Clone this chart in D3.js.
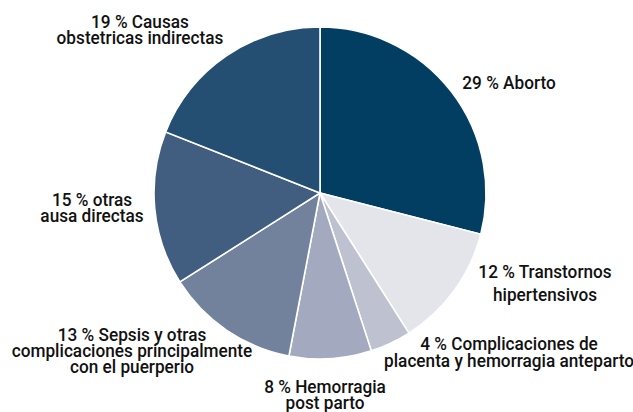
<!DOCTYPE html>
<html>
<head>
<meta charset="utf-8">
<script src="https://cdn.jsdelivr.net/npm/d3@7"></script>
<style>
  html, body { margin: 0; padding: 0; background: #fff; }
  svg text { font-family: Roboto, "Liberation Sans", sans-serif; font-weight: 500; fill: #111; }
</style>
</head>
<body>
<svg id="chart" width="633" height="412"></svg>
<script>
// data, clockwise from 12 o'clock
const causes = [
    "Aborto",
    "Transtornos hipertensivos",
    "Complicaciones de placenta y hemorragia anteparto",
    "Hemorragia post parto",
    "Sepsis y otras complicaciones principalmente con el puerperio",
    "otras ausa directas",
    "Causas obstetricas indirectas",
];
const shares = [29, 12, 4, 8, 13, 15, 19];
const labelLines = [
    ["29 % Aborto"],
    ["12 % Transtornos", "hipertensivos"],
    ["4 % Complicaciones de", "placenta y hemorragia anteparto"],
    ["8 % Hemorragia", "post parto"],
    ["13 % Sepsis y otras", "complicaciones principalmente", "con el puerperio"],
    ["15 % otras", "ausa directas"],
    ["19 % Causas", "obstetricas indirectas"],
];
const sliceColors = ["#023e62", "#e4e5eb", "#bec2d0", "#a3a9bf", "#72829c", "#415e80", "#254f72"];

const svg = d3.select("#chart");
const cx = 320, cy = 193, radius = 166;

const pie = d3.pie().sort(null).value((d) => d.value);
const arc = d3.arc().innerRadius(0).outerRadius(radius);

const data = causes.map((c, i) => ({ name: c, value: shares[i], lines: labelLines[i] }));
const arcs = pie(data);

const g = svg.append("g").attr("transform", `translate(${cx},${cy})`);

g.selectAll("path.slice")
    .data(arcs)
    .enter()
    .append("path")
    .attr("class", "slice")
    .attr("d", arc)
    .attr("fill", (d, i) => sliceColors[i])
    .attr("stroke", "#fff")
    .attr("stroke-width", 1.6);

// label anchors relative to pie center (x) and page (y baseline), tuned by eye
const labelPos = [
    { x: 189, y: 89 },
    { x: 225, y: 278 },
    { x: 189, y: 350 },
    { x: 5, y: 393 },
    { x: -188, y: 341 },
    { x: -228, y: 206 },
    { x: -180, y: 28 },
];
const lineGap = [0, 23, 17, 16, 16, 16, 16];
const squeeze = 0.93; // reference font is condensed

const labels = svg.append("g").attr("class", "labels");
labels.selectAll("text")
    .data(arcs)
    .enter()
    .append("text")
    .attr("text-anchor", "middle")
    .attr("font-size", 18.5)
    .attr("transform", (d, i) =>
        `translate(${cx + labelPos[i].x},${labelPos[i].y}) scale(${squeeze},1)`)
    .each(function (d, i) {
        const t = d3.select(this);
        d.data.lines.forEach((line, j) => {
            t.append("tspan")
                .attr("x", 0)
                .attr("dy", j === 0 ? 0 : lineGap[i])
                .text(line);
        });
    });
</script>
</body>
</html>
